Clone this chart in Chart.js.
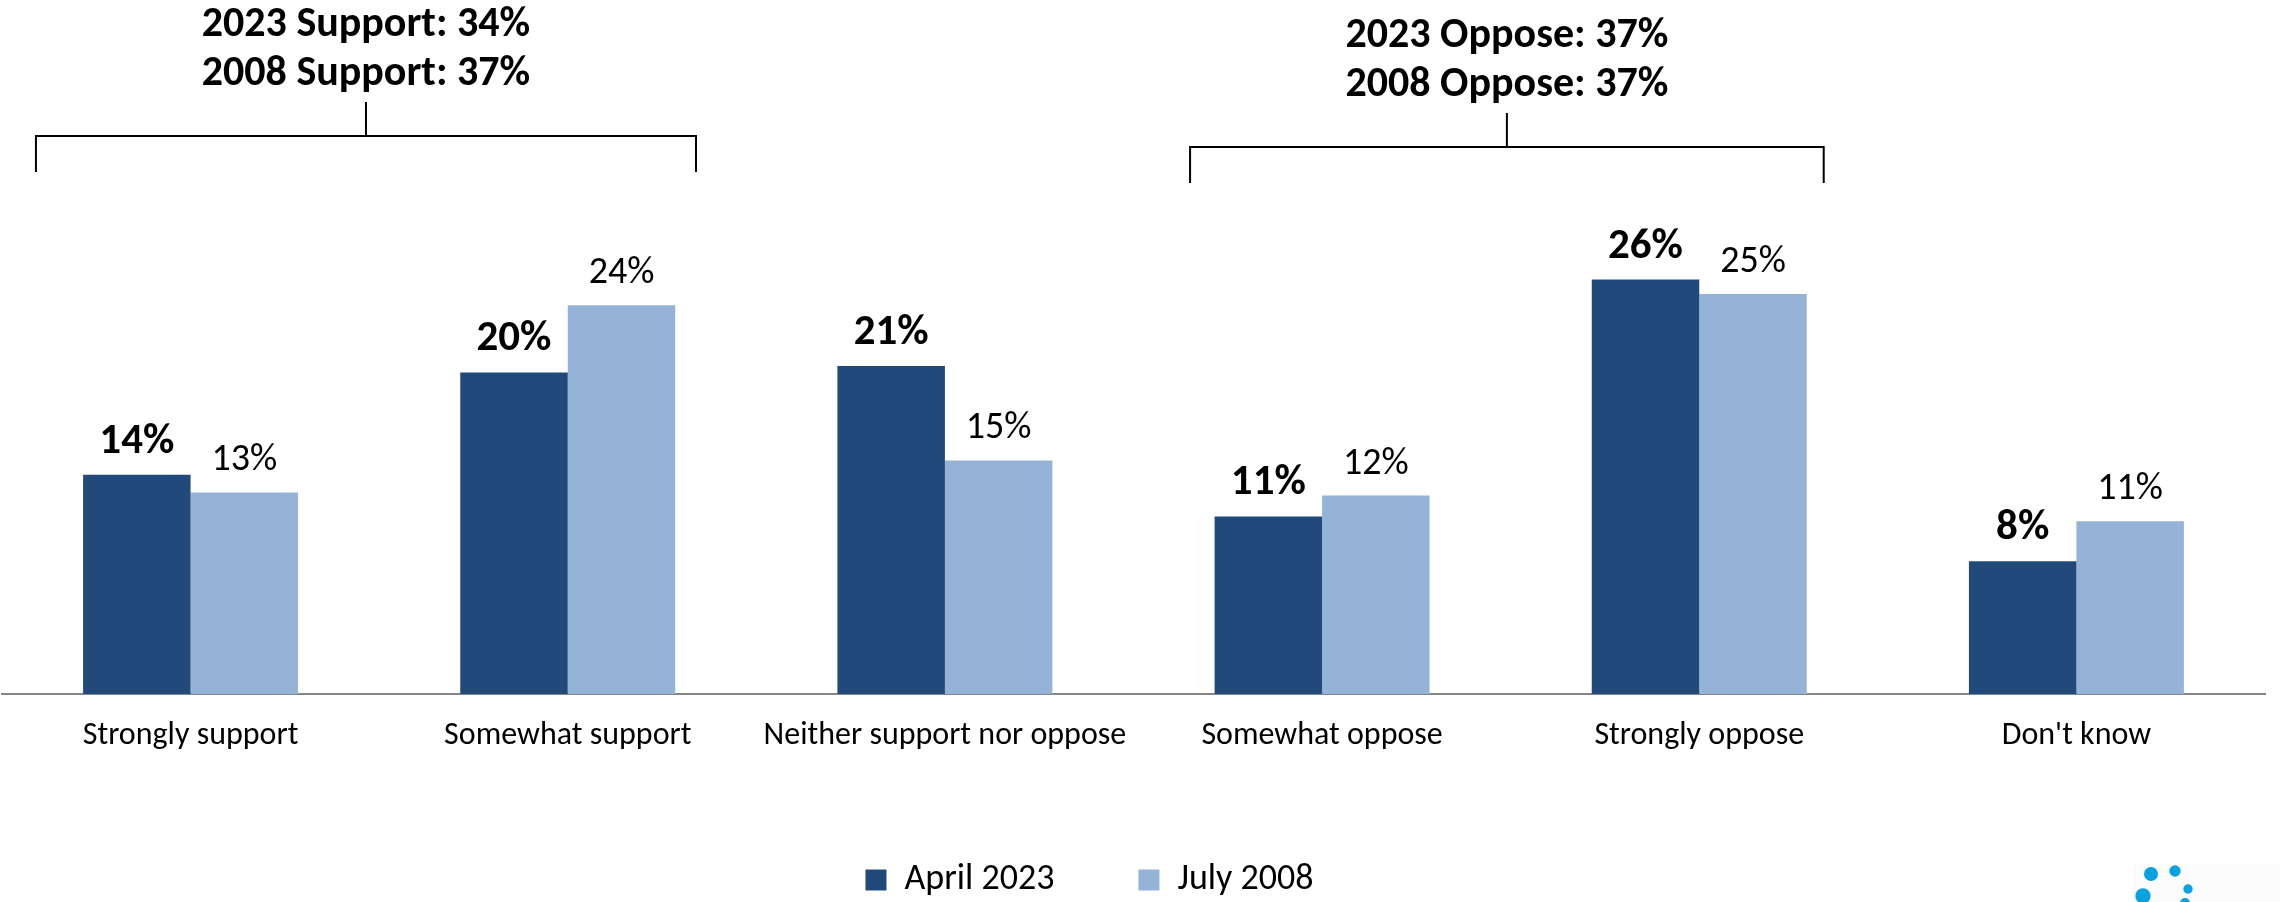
<!DOCTYPE html>
<html>
<head>
<meta charset="utf-8">
<script src="https://cdn.jsdelivr.net/npm/chart.js@4/dist/chart.umd.min.js"></script>
<style>
  html, body { margin: 0; padding: 0; background: #fff; }
  #wrap { width: 2280px; height: 902px; position: relative; }
</style>
</head>
<body>
<div id="wrap"><canvas id="chart"></canvas></div>
<script>
const categories = ['Strongly support', 'Somewhat support', 'Neither support nor oppose', 'Somewhat oppose', 'Strongly oppose', "Don't know"];
// values (labels show them rounded)
const april2023 = [13.7, 20.1, 20.5, 11.1, 25.9, 8.3];
const july2008 = [12.6, 24.3, 14.6, 12.4, 25.0, 10.8];
const seriesNames = ['April 2023', 'July 2008'];

// bracket groups above the bars
const groupTexts = [['2023 Support: 34%', '2008 Support: 37%'], ['2023 Oppose: 37%', '2008 Oppose: 37%']];
const groupSpans = [[0, 1], [3, 4]];

const FONT = 'Carlito, Lato, "Open Sans", sans-serif';
const darkBlue = '#214A7B';
const lightBlue = '#95B3D7';

const barLabels = {
  id: 'barLabels',
  afterDatasetsDraw(chart) {
    const ctx = chart.ctx;
    ctx.save();
    ctx.fillStyle = '#000';
    ctx.textAlign = 'center';
    ctx.textBaseline = 'alphabetic';
    chart.data.datasets.forEach((ds, i) => {
      const meta = chart.getDatasetMeta(i);
      ctx.font = i === 0 ? 'bold 43px ' + FONT : '38px ' + FONT;
      meta.data.forEach((bar, j) => {
        ctx.fillText(Math.round(ds.data[j]) + '%', bar.x, bar.y - 22);
      });
    });
    ctx.restore();
  }
};

// move the legend a little (left/down) to sit where the original one is
const legendNudge = {
  id: 'legendNudge',
  afterLayout(chart) {
    const lg = chart.legend;
    if (!lg) return;
    lg.left -= 44; lg.right -= 44;
    lg.top += 6; lg.bottom += 6;
  }
};

const brackets = {
  id: 'brackets',
  afterDraw(chart) {
    const ctx = chart.ctx;
    const x = chart.scales.x;
    const catW = x.getPixelForValue(1) - x.getPixelForValue(0);
    const cfg = [
      { l: -0.41, r: 0.34, dy: 0 },
      { l: -0.35, r: 0.33, dy: 11 }
    ];
    ctx.save();
    groupSpans.forEach((span, g) => {
      const c = cfg[g];
      const left = x.getPixelForValue(span[0]) + c.l * catW;
      const right = x.getPixelForValue(span[1]) + c.r * catW;
      const mid = (left + right) / 2;
      const yH = 136 + c.dy;
      ctx.strokeStyle = '#000';
      ctx.lineWidth = 2;
      ctx.beginPath();
      ctx.moveTo(left, yH + 36);
      ctx.lineTo(left, yH);
      ctx.lineTo(right, yH);
      ctx.lineTo(right, yH + 36);
      ctx.moveTo(mid, yH);
      ctx.lineTo(mid, yH - 34);
      ctx.stroke();
      ctx.fillStyle = '#000';
      ctx.font = 'bold 42px ' + FONT;
      ctx.textAlign = 'center';
      ctx.textBaseline = 'middle';
      groupTexts[g].forEach((t, k) => {
        ctx.fillText(t, mid, 27 + (c.dy - 2) + k * 49);
      });
    });

    // small logo dots, bottom right
    ctx.fillStyle = '#FCFCFC';
    ctx.fillRect(2133, 864, 147, 38);
    ctx.fillStyle = '#08A2E0';
    [[2151, 874, 7], [2175, 871, 5.7], [2188, 889, 4.7], [2143, 896, 7.7], [2185, 903, 5]].forEach(d => {
      ctx.beginPath();
      ctx.arc(d[0], d[1], d[2], 0, Math.PI * 2);
      ctx.fill();
    });
    ctx.restore();
  }
};

new Chart(document.getElementById('chart'), {
  type: 'bar',
  data: {
    labels: categories,
    datasets: [
      { label: seriesNames[0], data: april2023, backgroundColor: darkBlue },
      { label: seriesNames[1], data: july2008, backgroundColor: lightBlue }
    ]
  },
  options: {
    responsive: true,
    maintainAspectRatio: false,
    animation: false,
    layout: { padding: { top: 54, left: 2, right: 15, bottom: 0 } },
    datasets: { bar: { categoryPercentage: 0.57, barPercentage: 1 } },
    scales: {
      x: {
        grid: { display: false, drawTicks: false },
        border: { display: true, color: '#868686', width: 2 },
        ticks: { color: '#000', font: { family: FONT, size: 32 }, padding: 23, maxRotation: 0, autoSkip: false },
        afterFit(scale) { scale.height = 78; }
      },
      y: { display: false, min: 0, max: 40 }
    },
    plugins: {
      legend: {
        position: 'bottom',
        labels: {
          color: '#000',
          font: { family: FONT, size: 36 },
          boxWidth: 21,
          boxHeight: 21,
          padding: 84
        }
      },
      tooltip: { enabled: false }
    }
  },
  plugins: [barLabels, brackets, legendNudge]
});
</script>
</body>
</html>
